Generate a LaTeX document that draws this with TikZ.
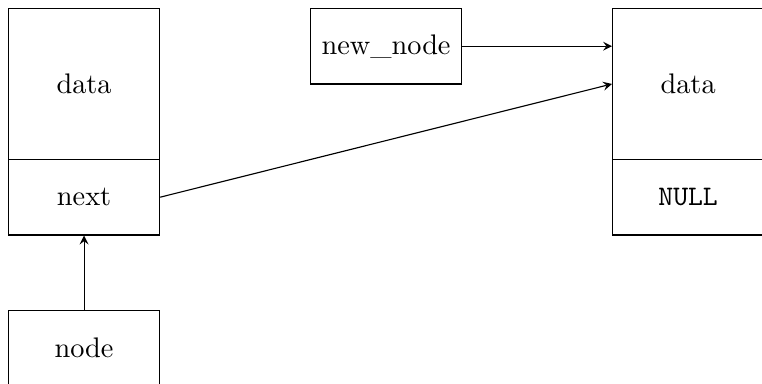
\documentclass[tikz,border=0pt]{standalone}
\usetikzlibrary{positioning,arrows}

\begin{document}
\begin{tikzpicture}[x=1.875cm,y=1.875cm,
    cell/.style={draw, rectangle, inner sep=0pt, anchor=north west,
        minimum width=1.875cm, minimum height=0.9375cm},
    bigcell/.style={cell, minimum height=1.875cm}]
    \useasboundingbox (-0.053,0.052) rectangle (4.993,-2.49);

    \node[bigcell] (data) at (0,0) {data};
    \node[cell] (next) at (0,-1) {next};
    \node[cell] (node) at (0,-2) {node};
    \node[cell] (newnode) at (2,0) {new\_node};
    \node[bigcell] (newdata) at (4,0) {data};
    \node[cell] (null) at (4,-1) {\texttt{NULL}};

    \draw[-stealth] (newnode.east) -- (newnode.east -| newdata.west);
    \draw[-stealth] (next.east) -- (newdata.west);
    \draw[-stealth] (node.north) -- (next.south);
\end{tikzpicture}
\end{document}
